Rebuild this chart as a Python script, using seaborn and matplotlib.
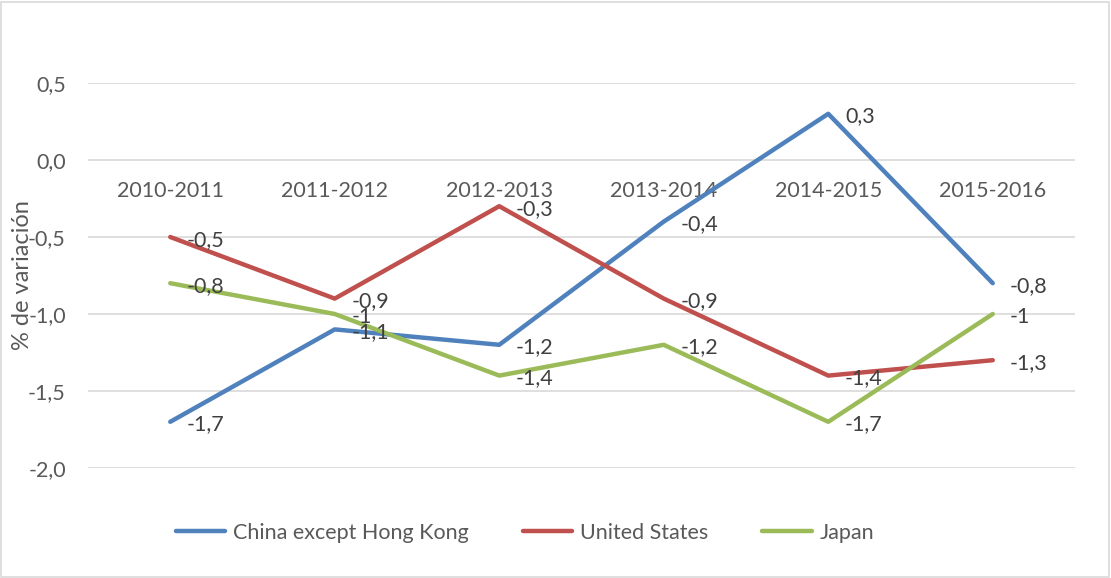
import pandas as pd
import matplotlib.pyplot as plt
import seaborn as sns
from matplotlib.patches import Rectangle

periods = ['2010-2011', '2011-2012', '2012-2013', '2013-2014', '2014-2015', '2015-2016']
china = [-1.7, -1.1, -1.2, -0.4, 0.3, -0.8]
usa = [-0.5, -0.9, -0.3, -0.9, -1.4, -1.3]
japan = [-0.8, -1.0, -1.4, -1.2, -1.7, -1.0]
series_names = ['China except Hong Kong', 'United States', 'Japan']
colors = ['#4F81BD', '#C0504D', '#9BBB59']
y_ticks = [-2.0, -1.5, -1.0, -0.5, 0.0, 0.5]


def fmt_label(v):
    # Excel "General" style, comma decimal
    return ('%g' % v).replace('.', ',')


def fmt_tick(v):
    return ('%.1f' % v).replace('.', ',')


df = pd.DataFrame({
    'x': list(range(len(periods))) * 3,
    'valor': china + usa + japan,
    'serie': [series_names[0]] * 6 + [series_names[1]] * 6 + [series_names[2]] * 6,
})

sns.set_theme(style='white')
plt.rcParams['font.family'] = ['Lato', 'DejaVu Sans']
text_color = '#595959'
fs = 15.5

fig = plt.figure(figsize=(11.11, 5.78), dpi=100)
ax = fig.add_axes([88 / 1111, 1 - 468 / 578, (1075 - 88) / 1111, (468 - 83) / 578])

sns.lineplot(data=df, x='x', y='valor', hue='serie', palette=colors,
             linewidth=3.2, ax=ax, legend=False, solid_capstyle='round')

for name, vals in zip(series_names, [china, usa, japan]):
    for i, v in enumerate(vals):
        ax.annotate(fmt_label(v), (i, v), xytext=(12, -2), textcoords='offset points',
                    ha='left', va='center', fontsize=fs, color='#404040')

# category axis crosses at 0, like the Excel original
ax.spines['bottom'].set_position(('data', 0))
for sp in ax.spines.values():
    sp.set_visible(False)

ax.set_xlim(-0.5, len(periods) - 0.5)
ax.set_ylim(-2.0, 0.5)
ax.set_yticks(y_ticks)
ax.set_yticklabels([fmt_tick(t) for t in y_ticks], fontsize=fs, color=text_color)
ax.yaxis.grid(True, color='#D9D9D9', linewidth=1.2)
ax.set_axisbelow(True)

ax.set_xticks(range(len(periods)))
ax.set_xticklabels(periods, fontsize=fs, color=text_color)
ax.tick_params(axis='x', length=0, pad=15)
ax.tick_params(axis='y', length=0, pad=16)

ax.set_xlabel('')
ax.set_ylabel('% de variación', fontsize=17, color=text_color)
ax.yaxis.set_label_coords((33 - 88) / 987, 0.5)

handles = [plt.Line2D([0], [0], color=c, linewidth=3.2, solid_capstyle='round') for c in colors]
fig.legend(handles, series_names, loc='center', bbox_to_anchor=(525 / 1111, 1 - 533 / 578),
           ncol=3, frameon=False, fontsize=fs, handlelength=2.3, handletextpad=0.37,
           columnspacing=2.5, labelcolor=text_color)

fig.patches.append(Rectangle((0.001, 0.002), 0.997, 0.995, transform=fig.transFigure,
                             fill=False, edgecolor='#D9D9D9', linewidth=1.2))

fig.savefig('out.png', dpi=100)
